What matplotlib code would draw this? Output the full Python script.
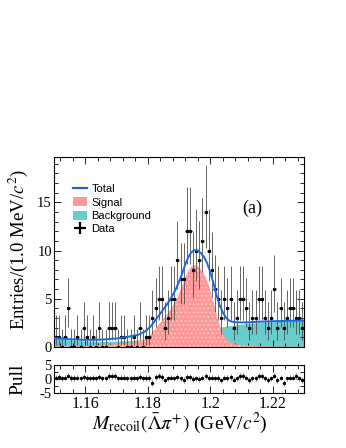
import math
import numpy as np
import matplotlib
matplotlib.use("Agg")
import matplotlib.pyplot as plt
from matplotlib.lines import Line2D
from matplotlib.patches import Patch
from matplotlib.ticker import MultipleLocator

plt.rcParams['mathtext.fontset'] = 'stix'
plt.rcParams['font.family'] = ['Liberation Serif', 'DejaVu Serif']
plt.rcParams['hatch.linewidth'] = 0.4

# ---------------- data ----------------
x_lo = 1.150
bin_w = 0.001
counts = [1, 1, 0, 1, 4, 0, 0, 1, 0, 2,
          1, 0, 1, 0, 2, 0, 0, 2, 2, 2,
          0, 1, 1, 0, 0, 1, 0, 2, 0, 1,
          1, 3, 4, 5, 5, 2, 3, 5, 5, 9,
          7, 7, 12, 12, 8, 10, 9, 11, 14, 10,
          8, 6, 5, 3, 5, 4, 5, 2, 3, 5,
          5, 4, 2, 3, 3, 5, 5, 3, 2, 3,
          6, 2, 4, 2, 3, 4, 4, 3, 3, 2]

# fit curves, sampled (MeV offset from 1.150 GeV)
curve_mev = [0, 5, 10, 15, 20, 24, 27, 29, 31, 33, 34, 35, 36, 37, 38, 39, 40,
             41, 42, 43, 44, 45, 46, 47, 48, 49, 50, 51, 52, 53, 54, 55, 56,
             57, 58, 60, 62, 65, 70, 75, 80]
signal = [0.05, 0.08, 0.12, 0.18, 0.28, 0.42, 0.55, 0.8, 1.3, 2.1, 2.5, 2.9,
          3.3, 3.75, 4.25, 4.8, 5.5, 6.3, 7.2, 7.9, 8.35, 8.5, 8.4, 8.05, 7.6,
          6.9, 5.9, 4.7, 3.4, 2.3, 1.5, 0.9, 0.55, 0.38, 0.28, 0.18, 0.13,
          0.09, 0.05, 0.03, 0.02]
background = [0.88, 0.72, 0.62, 0.58, 0.6, 0.66, 0.72, 0.78, 0.85, 0.92, 0.96,
              1.0, 1.05, 1.1, 1.15, 1.2, 1.25, 1.31, 1.37, 1.43, 1.49, 1.55,
              1.61, 1.68, 1.74, 1.8, 1.87, 1.93, 1.99, 2.04, 2.1, 2.15, 2.2,
              2.24, 2.28, 2.37, 2.43, 2.52, 2.62, 2.68, 2.72]

pulls = [0.5, 0.8, 0.2, 0.5, 1.2, 0.3, 0.3, 0.5, 0.2, 0.8,
         0.3, 0.2, 0.3, 0.2, 0.8, 0.2, 0.2, 1.0, 1.0, 1.0,
         0.2, 0.5, 0.5, 0.2, 0.2, 0.5, 0.2, 0.8, 0.2, 0.3,
         0.3, -1.5, 0.8, 1.0, 0.8, -0.5, 0.2, 0.5, 0.2, 0.8,
         0.2, -0.3, 0.8, 0.8, 0.0, 0.2, 0.0, 0.5, 1.0, 0.3,
         0.5, 0.2, 0.3, -0.5, 0.5, 0.3, 0.8, -0.2, 0.2, 1.0,
         1.0, 0.5, -0.3, 0.2, 0.2, 1.0, 1.0, 0.2, -0.3, 0.2,
         1.2, -0.3, 0.5, -1.5, 0.2, 0.5, 0.5, 1.0, 0.2, -0.3]

xtick_vals = [1.16, 1.18, 1.20, 1.22]
xtick_labels = ['1.16', '1.18', '1.2', '1.22']
ytick_vals = [0, 5, 10, 15]

# ---------------- helpers ----------------
def pois_cdf(k, mu):
    s = 0.0
    term = math.exp(-mu)
    for i in range(k + 1):
        if i > 0:
            term *= mu / i
        s += term
    return s

def bisect(f, lo, hi):
    # f decreasing in mu: find root
    for _ in range(60):
        mid = 0.5 * (lo + hi)
        if f(mid) > 0:
            lo = mid
        else:
            hi = mid
    return 0.5 * (lo + hi)

def garwood(n, a=0.158655):
    up = bisect(lambda m: pois_cdf(n, m) - a, 0.0, n + 30.0)
    if n == 0:
        lo = 0.0
    else:
        lo = bisect(lambda m: a - (1 - pois_cdf(n - 1, m)), 0.0, n + 30.0)
    return n - lo, up - n

xc = np.array([x_lo + bin_w * (i + 0.5) for i in range(len(counts))])
cnt = np.array(counts, dtype=float)
errs = np.array([garwood(n) for n in counts])
elo, ehi = errs[:, 0], errs[:, 1]

cx = x_lo + np.array(curve_mev) / 1000.0
sig = np.array(signal)
bkg = np.array(background)
tot = sig + bkg

# ---------------- figure ----------------
W, H = 346, 448
fig = plt.figure(figsize=(W / 100, H / 100), dpi=100)
ax = fig.add_axes([54 / W, 1 - 347 / H, 250 / W, 190 / H])
axp = fig.add_axes([54 / W, 1 - 393 / H, 250 / W, 28 / H])

teal = '#66CCCC'
pink = '#FF9999'
blue = '#1A66E6'

ax.fill_between(cx, 0, bkg, color=teal, lw=0, zorder=1)
ax.fill_between(cx, 0, sig, facecolor=pink, edgecolor='#FFE0E0', hatch='....',
                lw=0, zorder=2)
ax.plot(cx, tot, color=blue, lw=1.4, zorder=4)

ax.vlines(xc, cnt - elo, cnt + ehi, color='0.3', lw=0.6, zorder=3)
ax.hlines(cnt, xc - bin_w / 2, xc + bin_w / 2, color='black', lw=1.0, zorder=3)
ax.plot(xc, cnt, 's', color='black', ms=1.3, zorder=3)

ax.set_xlim(1.15, 1.23)
ax.set_ylim(0, 19.7)
ax.set_yticks(ytick_vals)
ax.set_xticks(xtick_vals)
ax.set_xticklabels([])
ax.xaxis.set_minor_locator(MultipleLocator(0.004))
ax.yaxis.set_minor_locator(MultipleLocator(1))

for a in (ax, axp):
    a.tick_params(which='both', direction='in', top=True, right=True,
                  width=0.6, labelsize=10.5, pad=1.5)
    a.tick_params(which='major', length=5)
    a.tick_params(which='minor', length=2.8)
    for s in a.spines.values():
        s.set_linewidth(0.8)

handles = [Line2D([], [], color=blue, lw=1.6),
           Patch(facecolor=pink, edgecolor='none'),
           Patch(facecolor=teal, edgecolor='none'),
           Line2D([], [], color='black', marker='+', ms=8, mew=1.6, ls='none')]
labels = ['Total', 'Signal', 'Background', 'Data']
leg = ax.legend(handles, labels, loc='upper left',
                bbox_to_anchor=((73 - 54) / 250, (347 - 184) / 190),
                borderaxespad=0, borderpad=0, frameon=False,
                prop={'family': 'Liberation Sans', 'size': 8},
                handlelength=1.3, handleheight=0.85, handletextpad=0.35,
                labelspacing=0.28)

ax.text((252 - 54) / 250, (347 - 208) / 190, '(a)', transform=ax.transAxes,
        ha='center', va='center', fontsize=13)

# pull panel
axp.errorbar(xc, pulls, yerr=1.0, xerr=bin_w / 2, fmt='s', ms=1.2,
             color='black', ecolor='0.3', elinewidth=0.5, capsize=0)
axp.set_xlim(1.15, 1.23)
axp.set_ylim(-5, 5)
axp.set_yticks([-5, 0, 5])
axp.set_yticklabels(['-5', '0', '5'])
axp.set_xticks(xtick_vals)
axp.set_xticklabels(xtick_labels)
axp.xaxis.set_minor_locator(MultipleLocator(0.004))
axp.yaxis.set_minor_locator(MultipleLocator(2.5))
axp.tick_params(axis='x', labelsize=11.5, pad=2)

fig.text(18 / W, 1 - 250 / H, r'Entries/(1.0 MeV/$c^2$)', rotation=90,
         ha='center', va='center', fontsize=13.5)
fig.text(18 / W, 1 - 379 / H, 'Pull', rotation=90, ha='center', va='center',
         fontsize=14)
fig.text(180 / W, 1 - 423 / H,
         r'$M_{\rm recoil}(\bar{\Lambda}\pi^{+})$ (GeV/$c^2$)',
         ha='center', va='center', fontsize=14)

fig.savefig('out.png', dpi=100)
